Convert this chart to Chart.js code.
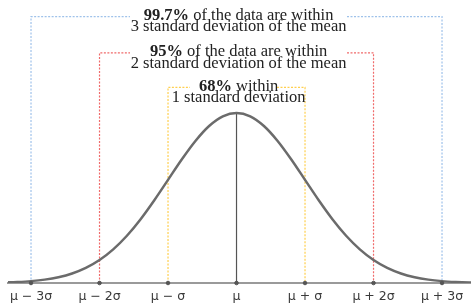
<!DOCTYPE html>
<html>
<head>
<meta charset="utf-8">
<script src="https://cdn.jsdelivr.net/npm/chart.js@4.4.1/dist/chart.umd.min.js"></script>
<style>
html,body{margin:0;padding:0;background:#fff;}
#wrap{width:471px;height:304px;position:relative;}
</style>
</head>
<body>
<div id="wrap"><canvas id="c" width="471" height="304"></canvas></div>
<script>
// Curve samples (in σ units) and density heights
const curveX = [-3.4,-3.2,-3.0,-2.8,-2.6,-2.4,-2.2,-2.0,-1.8,-1.6,-1.4,-1.2,-1.0,-0.8,-0.6,-0.4,-0.2,0,0.2,0.4,0.6,0.8,1.0,1.2,1.4,1.6,1.8,2.0,2.2,2.4,2.6,2.8,3.0,3.2,3.4,3.6];
const curveY = [0.0012,0.0024,0.0044,0.0079,0.0136,0.0224,0.0355,0.0540,0.0790,0.1109,0.1497,0.1942,0.2420,0.2897,0.3332,0.3683,0.3910,0.3989,0.3910,0.3683,0.3332,0.2897,0.2420,0.1942,0.1497,0.1109,0.0790,0.0540,0.0355,0.0224,0.0136,0.0079,0.0044,0.0024,0.0012,0.0006];
const peakY = 0.3989;

// Tick positions and labels
const tickValues = [-3,-2,-1,0,1,2,3];
const tickLabels = ['μ − 3σ','μ − 2σ','μ − σ','μ','μ + σ','μ + 2σ','μ + 3σ'];

// Brackets: half-width (σ), height, and the gap left open for the first text line
const bracketHalf = [3, 2, 1];
const bracketHeight = [0.625, 0.540, 0.459];
const gapLeft = [-1.555, -1.555, -0.679];
const gapRight = [1.613, 1.613, 0.591];
const bracketColors = ['#9fc2ea','#f06a6a','#ffcf4d'];

// Bracket texts
const boldParts = ['99.7%','95%','68%'];
const line1Rest = [' of the data are within',' of the data are within',' within'];
const line2Text = ['3 standard deviation of the mean','2 standard deviation of the mean','1 standard deviation'];

const datasets = [];
for (let i = 0; i < bracketHalf.length; i++) {
  const h = bracketHalf[i], y = bracketHeight[i];
  datasets.push({
    type:'line',
    data:[{x:-h,y:0},{x:-h,y:y},{x:gapLeft[i],y:y},{x:0,y:null},{x:gapRight[i],y:y},{x:h,y:y},{x:h,y:0}],
    borderColor:bracketColors[i], borderWidth:1.2, borderDash:[2,1.5],
    pointRadius:0, tension:0, spanGaps:false, order:5
  });
}
datasets.push({
  type:'line',
  data:[{x:0,y:0},{x:0,y:peakY}],
  borderColor:'#555', borderWidth:1.2, pointRadius:0, tension:0, order:3
});
datasets.push({
  type:'line',
  data:curveX.map((x,i)=>({x:x,y:curveY[i]})),
  borderColor:'#6b6b6b', borderWidth:2.5, pointRadius:0,
  cubicInterpolationMode:'monotone', order:2
});
datasets.push({
  type:'scatter',
  data:tickValues.map(v=>({x:v,y:0})),
  backgroundColor:'#555', borderColor:'#555', pointRadius:1.8, order:1, clip:false
});

const textPlugin = {
  id:'bracketText',
  afterDatasetsDraw(chart){
    const ctx = chart.ctx, xs = chart.scales.x, ys = chart.scales.y;
    ctx.save();
    ctx.fillStyle = '#222';
    ctx.textBaseline = 'middle';
    const size = 16.5;
    const cx = xs.getPixelForValue(0.03);
    for (let i = 0; i < boldParts.length; i++) {
      const by = ys.getPixelForValue(bracketHeight[i]);
      ctx.font = 'bold ' + size + 'px "Liberation Serif"';
      const wb = ctx.measureText(boldParts[i]).width;
      ctx.font = size + 'px "Liberation Serif"';
      const wr = ctx.measureText(line1Rest[i]).width;
      let x0 = cx - (wb + wr) / 2;
      ctx.textAlign = 'left';
      ctx.font = 'bold ' + size + 'px "Liberation Serif"';
      ctx.fillText(boldParts[i], x0, by - 1);
      ctx.font = size + 'px "Liberation Serif"';
      ctx.fillText(line1Rest[i], x0 + wb, by - 1);
      ctx.textAlign = 'center';
      ctx.fillText(line2Text[i], cx, by + 10.5);
    }
    ctx.restore();
  }
};

new Chart(document.getElementById('c'), {
  data:{datasets:datasets},
  options:{
    responsive:false, animation:false, devicePixelRatio:1,
    layout:{autoPadding:false, padding:{left:8,right:0,top:0,bottom:0}},
    plugins:{legend:{display:false}, tooltip:{enabled:false}},
    scales:{
      x:{
        type:'linear', min:-3.336, max:3.423,
        afterBuildTicks(s){ s.ticks = tickValues.map(v=>({value:v})); },
        afterFit(s){ s.paddingLeft = 0; s.paddingRight = 0; s.height = 21; },
        ticks:{
          autoSkip:false, maxRotation:0, padding:6.5, color:'#3a3a3a',
          font:{family:'"DejaVu Sans"', size:12.5},
          callback(v){ const i = tickValues.indexOf(v); return i >= 0 ? tickLabels[i] : ''; }
        },
        grid:{display:false, drawTicks:false},
        border:{display:true, color:'#9a9a9a', width:2}
      },
      y:{
        type:'linear', min:0, max:0.664, display:false
      }
    }
  },
  plugins:[textPlugin]
});
</script>
</body>
</html>
